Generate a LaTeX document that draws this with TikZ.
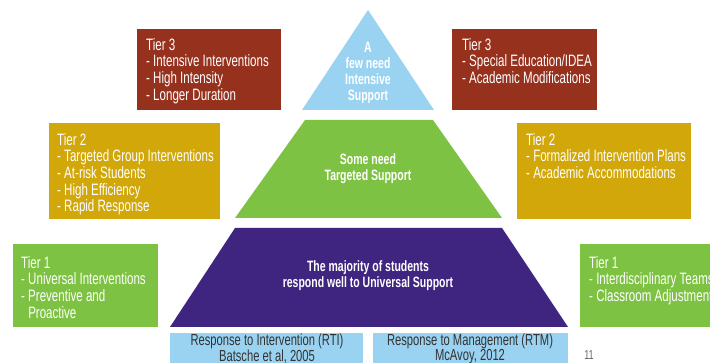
\documentclass[tikz,border=0pt]{standalone}
\usepackage{fontspec}
\setmainfont{Liberation Sans}[FakeStretch=0.7]
\definecolor{tierred}{HTML}{96311E}
\definecolor{tiergold}{HTML}{D1A70A}
\definecolor{tiergreen}{HTML}{7DC242}
\definecolor{tierblue}{HTML}{99D3F1}
\definecolor{tierpurple}{HTML}{3F2580}
\begin{document}
\begin{tikzpicture}[x=1pt, y=-1pt,
    boxtext/.style={anchor=north west, align=left, inner sep=0pt, text=white,
        font=\fontsize{16.5}{16.7}\selectfont},
    pyrtext/.style={align=center, inner sep=0pt, text=white,
        font=\bfseries\fontsize{15}{16}\selectfont},
    reftext/.style={align=center, inner sep=0pt, text=black!80,
        font=\fontsize{16}{12.5}\selectfont}]
            \clip (0,0) rectangle (710,363);
            \fill[white] (0,0) rectangle (710,363);

            % Pyramid
            \fill[tierblue] (368,10) -- (434,110) -- (302,110) -- cycle;
            \fill[tiergreen] (305,120) -- (433,120) -- (502,218) -- (235,218) -- cycle;
            \fill[tierpurple] (235,228) -- (502,228) -- (568,327) -- (170,327) -- cycle;
            \node[pyrtext] (few) at (368,73) {A\\few need\\Intensive\\Support};
            \node[pyrtext] (some) at (368,169) {Some need\\Targeted Support};
            \node[pyrtext] (most) at (368,276) {The majority of students\\respond well to Universal Support};

            % Left boxes
            \fill[tierred] (137,29) rectangle (281,110);
            \node[boxtext] (rti3) at (146,38) {Tier 3\\- Intensive Interventions\\- High Intensity\\- Longer Duration};
            \fill[tiergold] (49,123) rectangle (220,219);
            \node[boxtext] (rti2) at (57,133) {Tier 2\\- Targeted Group Interventions\\- At-risk Students\\- High Efficiency\\- Rapid Response};
            \fill[tiergreen] (13,244) rectangle (158,327);
            \node[boxtext] (rti1) at (21,256) {Tier 1\\- Universal Interventions\\- Preventive and\\\phantom{- }Proactive};

            % Right boxes
            \fill[tierred] (452,29) rectangle (597,110);
            \node[boxtext] (rtm3) at (462,38) {Tier 3\\- Special Education/IDEA\\- Academic Modifications};
            \fill[tiergold] (517,123) rectangle (691,219);
            \node[boxtext] (rtm2) at (526,133) {Tier 2\\- Formalized Intervention Plans\\- Academic Accommodations};
            \fill[tiergreen] (580,244) rectangle (715,327);
            \node[boxtext] (rtm1) at (589,256) {Tier 1\\- Interdisciplinary Teams\\- Classroom Adjustments};

            % Models
            \fill[tierblue] (170,333) rectangle (363,366);
            \node[reftext] (rti) at (267,349) {Response to Intervention (RTI)\\Batsche et al, 2005};
            \fill[tierblue] (373,333) rectangle (568,366);
            \node[reftext] (rtm) at (470,349) {Response to Management (RTM)\\McAvoy, 2012};
            \node[text=black!60, font=\fontsize{13}{13}\selectfont] (page) at (589,355) {11};
        \end{tikzpicture}
\end{document}
